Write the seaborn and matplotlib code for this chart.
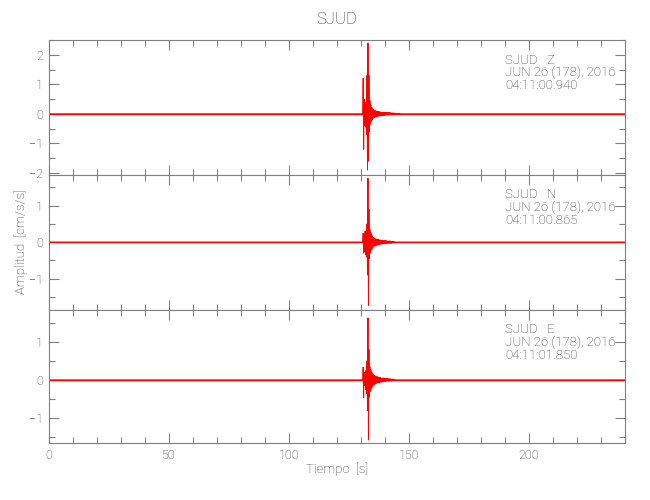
import matplotlib
matplotlib.use("Agg")
import matplotlib.pyplot as plt
from matplotlib.ticker import MultipleLocator
import pandas as pd
import seaborn as sns

# station / component info
station = "SJUD"
components = ["Z", "N", "E"]
date_label = "JUN 26 (178), 2016"
start_times = ["04:11:00.940", "04:11:00.865", "04:11:01.850"]

# event samples (every 0.2 s from t0), baseline 0 elsewhere
t0 = 130.8
dt = 0.2
t_end = 240.0

amp_z = [0.0, 1.2, -1.2, 0.5, -0.4, 0.35, -0.45, 0.4, -0.7, 1.3, -1.9, 2.4,
         -1.6, 1.3, -0.6, 0.45, -0.35, 0.3, -0.25, 0.22, -0.2, 0.17, -0.15, 0.14,
         -0.13, 0.12, -0.11, 0.1, -0.1, 0.09, -0.09, 0.08, -0.08, 0.08, -0.07,
         0.07, -0.07, 0.06, -0.06, 0.06, -0.06, 0.05, -0.06, 0.05, -0.05, 0.05,
         -0.05, 0.05, -0.04, 0.05, -0.04, 0.04, -0.04, 0.04, -0.04, 0.04, -0.03,
         0.04, -0.03, 0.03, -0.03, 0.03, -0.03, 0.03, -0.03, 0.03, -0.03, 0.02,
         -0.03, 0.02, -0.02, 0.02, -0.02, 0.02, -0.02, 0.02, -0.02, 0.02, 0.0]
amp_n = [0.0, 0.25, -0.3, 0.2, -0.25, 0.3, -0.35, 0.3, -0.4, 0.5, -0.9, 1.75,
         -1.73, 0.9, -0.45, 0.35, -0.3, 0.25, -0.22, 0.2, -0.17, 0.15, -0.13,
         0.12, -0.11, 0.1, -0.1, 0.09, -0.09, 0.08, -0.08, 0.07, -0.07, 0.07,
         -0.06, 0.06, -0.06, 0.06, -0.05, 0.05, -0.05, 0.05, -0.05, 0.04, -0.04,
         0.04, -0.04, 0.04, -0.04, 0.04, -0.03, 0.03, -0.03, 0.03, -0.03, 0.03,
         -0.03, 0.03, -0.03, 0.02, -0.03, 0.02, -0.02, 0.02, -0.02, 0.02, 0.0]
amp_e = [0.0, 0.34, -0.47, 0.2, -0.15, 0.2, -0.25, 0.25, -0.35, 0.5, -0.8, 1.63,
         -1.58, 0.8, -0.45, 0.35, -0.3, 0.26, -0.23, 0.2, -0.18, 0.16, -0.14,
         0.13, -0.12, 0.11, -0.1, 0.1, -0.09, 0.09, -0.08, 0.08, -0.07, 0.07,
         -0.07, 0.06, -0.06, 0.06, -0.06, 0.05, -0.05, 0.05, -0.05, 0.05, -0.04,
         0.04, -0.04, 0.04, -0.04, 0.04, -0.03, 0.04, -0.03, 0.03, -0.03, 0.03,
         -0.03, 0.03, -0.03, 0.02, -0.03, 0.02, -0.02, 0.02, -0.02, 0.02, 0.0]
traces = [amp_z, amp_n, amp_e]
ylims = [(-2.07, 2.5), (-1.86, 1.84), (-1.66, 1.84)]

sns.set_style("ticks")
plt.rcParams['font.family'] = ['Roboto', 'DejaVu Sans']
plt.rcParams['font.weight'] = 'light'
gray = "#808080"
txt = "#383838"

fig = plt.figure(figsize=(6.5, 5), dpi=100)
bounds = [(0.114, 0.38), (0.38, 0.65), (0.65, 0.92)]
left, right = 48.5 / 650, 625 / 650

for i, (amp, comp, st, yl) in enumerate(zip(traces, components, start_times, ylims)):
    bot, top = bounds[2 - i]
    ax = fig.add_axes([left, bot, right - left, top - bot])
    t = [0.0] + [t0 + dt * k for k in range(len(amp))] + [t_end]
    y = [0.0] + amp + [0.0]
    df = pd.DataFrame({"t": t, "amp": y})
    sns.lineplot(data=df, x="t", y="amp", ax=ax, color="red", linewidth=0.7,
                 estimator=None, sort=False)
    ax.axhline(0, color="red", linewidth=1.0, zorder=1)
    ax.set_xlim(0, t_end)
    ax.set_ylim(*yl)
    ax.xaxis.set_major_locator(MultipleLocator(50))
    ax.xaxis.set_minor_locator(MultipleLocator(10))
    ax.yaxis.set_major_locator(MultipleLocator(1))
    ax.yaxis.set_minor_locator(MultipleLocator(0.5))
    ax.tick_params(which="both", direction="in", top=True, right=True,
                   colors=gray, labelcolor=txt, labelsize=9, width=0.8)
    ax.tick_params(which="major", length=7, pad=4)
    ax.tick_params(which="minor", length=4)
    for s in ax.spines.values():
        s.set_color(gray)
        s.set_linewidth(0.8)
    ax.set_xlabel("")
    ax.set_ylabel("")
    if i < 2:
        ax.set_xticklabels([])
    ax.text(190, yl[1] - (yl[1] - yl[0]) * 0.1,
            f"{station}   {comp}\n{date_label}\n{st}",
            color=txt, fontsize=9.5, va="top", ha="left", linespacing=0.95)

fig.text(0.518, 0.96, station, ha="center", va="center", color=txt, fontsize=12)
fig.text(0.518, 0.062, "Tiempo  [s]", ha="center", va="center", color=txt, fontsize=9.5)
fig.text(0.032, 0.516, "Amplitud  [cm/s/s]", ha="center", va="center",
         rotation=90, color=txt, fontsize=9.5)

fig.savefig("out.png", dpi=100)
